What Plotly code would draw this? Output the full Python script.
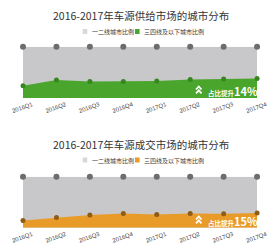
import plotly.graph_objects as go

quarters = ["2016Q1", "2016Q2", "2016Q3", "2016Q4", "2017Q1", "2017Q2", "2017Q3", "2017Q4"]
top_share = [100, 100, 100, 100, 100, 100, 100, 100]
supply_low = [24, 35, 32, 32, 33, 36, 37, 38]
deal_low = [14, 20, 25, 28, 26, 28, 27.5, 29]

title1 = "2016-2017年车源供给市场的城市分布"
title2 = "2016-2017年车源成交市场的城市分布"
legend_a = "一二线城市比例"
legend_b = "三四线及以下城市比例"
badge1 = ("占比提升", "14%")
badge2 = ("占比提升", "15%")

W, H = 280, 252
FONT = "Noto Sans CJK SC"
GRAY_FILL = "#c8c8ca"
GRAY_DOT = "#6d6d6d"
GREEN = "#4aa52c"
GREEN_DOT = "#37861f"
ORANGE = "#e99b2a"
ORANGE_DOT = "#8e5c12"

def px(x):
    return x / W

def py(y):
    return 1 - y / H

xs = list(range(len(quarters)))
fig = go.Figure()

panels = [
    dict(xa="x", ya="y", low=supply_low, fill=GREEN, dot=GREEN_DOT),
    dict(xa="x2", ya="y2", low=deal_low, fill=ORANGE, dot=ORANGE_DOT),
]
for p in panels:
    fig.add_trace(go.Scatter(
        x=xs, y=top_share, xaxis=p["xa"], yaxis=p["ya"], mode="lines+markers",
        line=dict(width=0, color=GRAY_FILL), fill="tozeroy", fillcolor=GRAY_FILL,
        marker=dict(size=6, color=GRAY_DOT), cliponaxis=False, showlegend=False,
        hoverinfo="skip"))
    fig.add_trace(go.Scatter(
        x=xs, y=p["low"], xaxis=p["xa"], yaxis=p["ya"], mode="lines+markers",
        line=dict(width=0, color=p["fill"]), fill="tozeroy", fillcolor=p["fill"],
        marker=dict(size=5, color=p["dot"]), cliponaxis=False, showlegend=False,
        hoverinfo="skip"))

xcommon = dict(range=[0, len(quarters) - 1], tickmode="array", tickvals=xs, ticktext=quarters,
               tickangle=-20, tickfont=dict(size=6, color="#444444", family="Arial"),
               ticklabelshift=9, ticklabelstandoff=1, ticklabeloverflow="allow",
               showgrid=False, zeroline=False, showline=False, ticks="", fixedrange=True)
ycommon = dict(range=[0, 100], visible=False, showgrid=False, zeroline=False, fixedrange=True)

fig.update_layout(
    width=W, height=H, margin=dict(l=0, r=0, t=0, b=0),
    paper_bgcolor="white", plot_bgcolor="white",
    xaxis=dict(domain=[px(12), px(267)], anchor="y", **xcommon),
    yaxis=dict(domain=[py(98), py(46.7)], anchor="x", **ycommon),
    xaxis2=dict(domain=[px(12), px(267)], anchor="y2", **xcommon),
    yaxis2=dict(domain=[py(227.7), py(176.7)], anchor="x2", **ycommon),
    font=dict(family=FONT),
)

annotations = []
shapes = []

def header(title, ty, ly, color):
    annotations.append(dict(text=title, x=px(140), y=py(ty), xref="paper", yref="paper",
                            showarrow=False, xanchor="center", yanchor="middle",
                            font=dict(size=10.5, color="#333333", family=FONT)))
    for sx, col, txt in [(77, "#d9d9d9", legend_a), (134, color, legend_b)]:
        shapes.append(dict(type="rect", xref="paper", yref="paper",
                           x0=px(sx), x1=px(sx + 5), y0=py(ly + 2.5), y1=py(ly - 2.5),
                           fillcolor=col, line=dict(width=0)))
        annotations.append(dict(text=txt, x=px(sx + 8), y=py(ly), xref="paper", yref="paper",
                                showarrow=False, xanchor="left", yanchor="middle",
                                font=dict(size=6, color="#333333", family=FONT)))

def badge(parts, cx, cy):
    annotations.append(dict(
        text="<b>%s</b><b><span style='font-size:11px'>%s</span></b>" % parts,
        x=px(cx), y=py(cy), xref="paper", yref="paper", showarrow=False,
        xanchor="left", yanchor="middle", font=dict(size=6.5, color="white", family=FONT)))
    ix = cx - 7.5
    for off in (0, 3.8):
        y0 = cy - 4 + off
        path = "M %f %f L %f %f L %f %f" % (px(ix - 3), py(y0 + 3), px(ix), py(y0),
                                             px(ix + 3), py(y0 + 3))
        shapes.append(dict(type="path", xref="paper", yref="paper", path=path,
                           line=dict(color="white", width=1.8)))

header(title1, 15, 31.5, GREEN)
header(title2, 144.5, 160, ORANGE)
badge(badge1, 211, 90.5)
badge(badge2, 211, 220.5)

fig.update_layout(annotations=annotations, shapes=shapes)
fig.write_html("out.html")
